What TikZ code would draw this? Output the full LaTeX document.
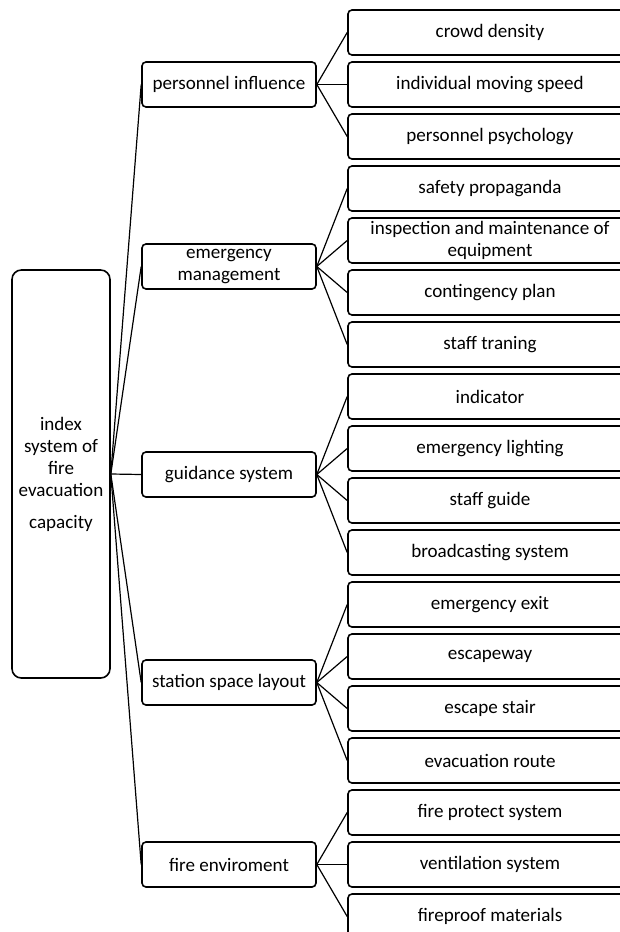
\documentclass[tikz,border=0pt]{standalone}
\usepackage{fontspec}
\setmainfont{Carlito}
\usetikzlibrary{positioning, calc}
\begin{document}
\begin{tikzpicture}[x=0.75pt, y=-0.75pt, line width=0.9pt]
    \tikzstyle{box}=[draw, line width=1.2pt, inner sep=0pt, align=center, font=\fontsize{14.3}{16.5}\selectfont]
    \tikzstyle{index}=[box, rounded corners=3pt, minimum width=213pt, minimum height=33.75pt]
    \tikzstyle{factor}=[box, rounded corners=3pt, minimum width=130.5pt, minimum height=33.75pt]
    \tikzstyle{goal}=[box, rounded corners=7pt, minimum width=73.5pt, minimum height=306pt]

    \useasboundingbox (0,0) rectangle (620,932);
    \clip (0,0) rectangle (620,932);

    % Draw the root node
    \node[goal] (R) at (61,474) {\fontsize{14.3}{18}\selectfont index\\system of\\fire\\evacuation\\[7.5pt]capacity};

    % Draw the factor nodes
    \foreach \name/\y/\txt in {1/84.5/personnel influence, 2/266.5/{emergency\\management},
        3/474.5/guidance system, 4/682.5/station space layout, 5/864.5/fire enviroment}
    \node[factor] (F-\name) at (229,\y) {\txt};

    % Draw the index nodes
    \foreach \name/\txt in {0/crowd density, 1/individual moving speed, 2/personnel psychology,
        3/safety propaganda, 4/{inspection and maintenance of\\equipment}, 5/contingency plan,
        6/staff traning, 7/indicator, 8/emergency lighting, 9/staff guide,
        10/broadcasting system, 11/emergency exit, 12/escapeway, 13/escape stair,
        14/evacuation route, 15/fire protect system, 16/ventilation system, 17/fireproof materials}
    \node[index] (I-\name) at (490,{32.5+52*\name}) {\txt};

    % Connect the root with every factor
    \foreach \dest in {1,...,5}
    \draw (R.east) -- (F-\dest.west);

    % Connect every factor with its indices
    \foreach \source/\first/\last in {1/0/2, 2/3/6, 3/7/10, 4/11/14, 5/15/17}
    \foreach \dest in {\first,...,\last}
    \draw (F-\source.east) -- (I-\dest.west);
\end{tikzpicture}
\end{document}
